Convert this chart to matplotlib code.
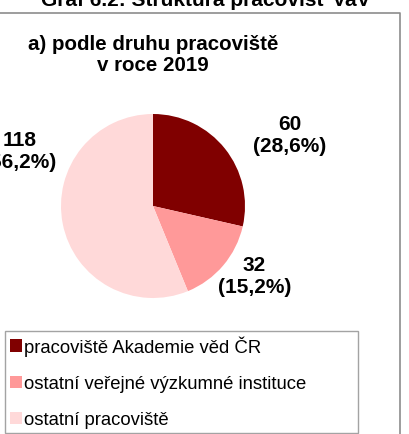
import matplotlib.pyplot as plt
from matplotlib.lines import Line2D

plt.rcParams['font.family'] = ['Liberation Sans', 'DejaVu Sans']

# data
categories = ['pracoviště Akademie věd ČR',
              'ostatní veřejné výzkumné instituce',
              'ostatní pracoviště']
counts = [60, 32, 118]
shares = ['28,6%', '15,2%', '56,2%']
colors = ['#800000', '#FF9999', '#FFD9D9']

# label positions in pie radius units
label_pos = [(1.49, 0.78), (1.10, -0.76), (-1.45, 0.60)]

W, H = 409, 435
fig = plt.figure(figsize=(W / 100, H / 100), dpi=100)

# outer frame of the chart area (top and right sides are visible)
top_y = 1 - 13.5 / H
right_x = 399.5 / W
fig.add_artist(Line2D([0, right_x, right_x], [top_y, top_y, 0],
                      transform=fig.transFigure, color='#8c8c8c',
                      linewidth=1.2, zorder=5))

# cut off heading above the chart
fig.text(206 / W, 1 - 6 / H, 'Graf 6.2: Struktura pracovišť VaV',
         ha='center', va='baseline', fontsize=15, fontweight='bold')

fig.text(153 / W, 1 - 55 / H, 'a) podle druhu pracoviště\nv roce 2019',
         ha='center', va='center', multialignment='center',
         fontsize=14.8, fontweight='bold', linespacing=1.12)

cx, cy, r = 153, 207, 92
ax = fig.add_axes([(cx - r) / W, (H - cy - r) / H, 2 * r / W, 2 * r / H])
wedges, _ = ax.pie(counts, colors=colors, startangle=90, counterclock=False,
                   wedgeprops=dict(linewidth=0))
ax.set_xlim(-1, 1)
ax.set_ylim(-1, 1)
ax.set_aspect('equal')

for (x, y), n, s in zip(label_pos, counts, shares):
    ax.text(x, y, f'{n}\n({s})', ha='center', va='center', fontsize=15,
            fontweight='bold', linespacing=1.2, clip_on=False)

leg = fig.legend(wedges, categories, loc='lower left',
                 bbox_to_anchor=(5 / W, 1 / H, 353 / W, 105 / H), mode='expand',
                 fontsize=13.3, frameon=True, fancybox=False,
                 handlelength=0.65, handleheight=0.65, handletextpad=0.12,
                 labelspacing=1.04, borderaxespad=0, borderpad=0.25)
leg.get_frame().set_edgecolor('#8c8c8c')
leg.get_frame().set_linewidth(1)

fig.savefig('out.png', dpi=100)
